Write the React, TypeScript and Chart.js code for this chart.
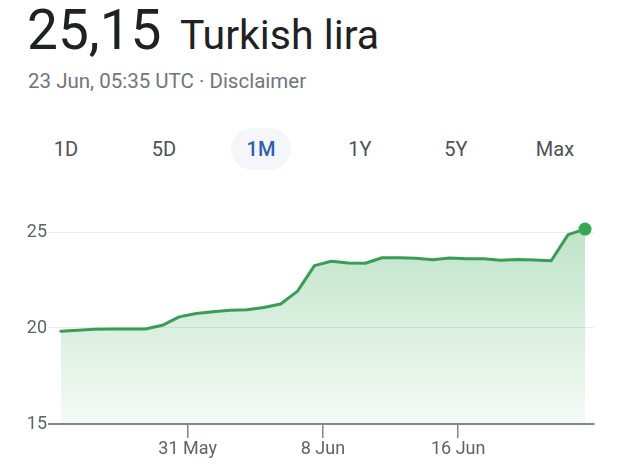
import React, { useEffect, useRef } from "react";
import { Chart, registerables } from "chart.js";

Chart.register(...registerables);

// ---- data ----
const dates = [
  "2023-05-23", "2023-05-24", "2023-05-25", "2023-05-26", "2023-05-27", "2023-05-28",
  "2023-05-29", "2023-05-30", "2023-05-31", "2023-06-01", "2023-06-02", "2023-06-03",
  "2023-06-04", "2023-06-05", "2023-06-06", "2023-06-07", "2023-06-08", "2023-06-09",
  "2023-06-10", "2023-06-11", "2023-06-12", "2023-06-13", "2023-06-14", "2023-06-15",
  "2023-06-16", "2023-06-17", "2023-06-18", "2023-06-19", "2023-06-20", "2023-06-21",
  "2023-06-22", "2023-06-23",
];
const rates = [
  19.83, 19.88, 19.93, 19.95, 19.95, 19.95,
  20.14, 20.58, 20.76, 20.85, 20.93, 20.95,
  21.07, 21.25, 21.92, 23.25, 23.48, 23.38,
  23.37, 23.66, 23.66, 23.63, 23.55, 23.64,
  23.61, 23.61, 23.53, 23.57, 23.54, 23.50,
  24.86, 25.15,
];
const tickDates = ["2023-05-31", "2023-06-08", "2023-06-16"];
const tickLabels = ["31 May", "8 Jun", "16 Jun"];
const yTicks = [15, 20, 25];
const ranges = ["1D", "5D", "1M", "1Y", "5Y", "Max"];
const activeRange = "1M";
const price = "25,15";
const currency = "Turkish lira";
const subtitle = "23 Jun, 05:35 UTC · Disclaimer";

const ORIGIN = Date.UTC(2023, 4, 1);
const toDay = (s: string) => (Date.parse(s + "T00:00:00Z") - ORIGIN) / 86400000;
const tickDays = tickDates.map(toDay);

const rangeCenters = [66, 164, 261, 360, 456, 555];

export default function App() {
  const ref = useRef<HTMLCanvasElement | null>(null);

  useEffect(() => {
    if (!ref.current) return;
    const chart = new Chart(ref.current, {
      type: "line",
      data: {
        datasets: [
          {
            data: dates.map((d, i) => ({ x: toDay(d) + 0.5, y: rates[i] })),
            borderColor: "#3a9d55",
            borderWidth: 3,
            borderJoinStyle: "round",
            borderCapStyle: "round",
            tension: 0,
            fill: "start",
            backgroundColor: (ctx: any) => {
              const c = ctx.chart;
              const area = c.chartArea;
              if (!area) return "rgba(52,168,83,0.2)";
              const g = c.ctx.createLinearGradient(0, area.top, 0, area.bottom);
              g.addColorStop(0, "rgba(52,168,83,0.34)");
              g.addColorStop(1, "rgba(52,168,83,0.05)");
              return g;
            },
            pointRadius: (ctx: any) => (ctx.dataIndex === rates.length - 1 ? 6.5 : 0),
            pointBackgroundColor: "#34a853",
            pointBorderWidth: 0,
            pointHoverRadius: 0,
            clip: false,
          } as any,
        ],
      },
      options: {
        animation: false,
        responsive: false,
        maintainAspectRatio: false,
        events: [],
        layout: { padding: { top: 10.6, right: 26, bottom: 6, left: 0 } },
        plugins: { legend: { display: false }, tooltip: { enabled: false } },
        scales: {
          x: {
            type: "linear",
            min: 21.8,
            max: 54.03,
            afterBuildTicks: (s: any) => {
              s.ticks = tickDays.map((v) => ({ value: v }));
            },
            afterFit: (s: any) => {
              s.height = 45;
            },
            grid: {
              display: true,
              drawOnChartArea: false,
              drawTicks: true,
              tickLength: 14,
              color: "#80868b",
              lineWidth: 1.5,
            },
            border: { display: true, color: "#80868b", width: 2 },
            ticks: {
              padding: 1,
              color: "#5f6368",
              font: { family: "Roboto", size: 18 },
              maxRotation: 0,
              autoSkip: false,
              callback: (v: any) => {
                const i = tickDays.indexOf(Number(v));
                return i >= 0 ? tickLabels[i] : "";
              },
            },
          },
          y: {
            min: 15,
            max: 26,
            afterBuildTicks: (s: any) => {
              s.ticks = yTicks.map((v) => ({ value: v }));
            },
            afterFit: (s: any) => {
              s.width = 49;
            },
            grid: { color: "#ebebeb", lineWidth: 1, drawTicks: false },
            border: { display: false },
            ticks: {
              padding: 2,
              color: "#5f6368",
              font: { family: "Roboto", size: 18 },
              callback: (v: any) => String(v),
            },
          },
        },
      } as any,
    });
    return () => chart.destroy();
  }, []);

  const font = "Roboto, 'Noto Sans', sans-serif";
  return (
    <div
      style={{
        position: "fixed",
        left: 0,
        top: 0,
        width: 620,
        height: 475,
        background: "#fff",
        overflow: "hidden",
        fontFamily: font,
      }}
    >
      <span
        style={{ position: "absolute", left: 27, top: 2.7, fontSize: 55, lineHeight: 1, color: "#202124", whiteSpace: "nowrap" }}
      >
        {price}
      </span>
      <span
        style={{ position: "absolute", left: 180, top: 14.5, fontSize: 41, lineHeight: 1, color: "#202124", whiteSpace: "nowrap" }}
      >
        {currency}
      </span>
      <span
        style={{ position: "absolute", left: 28, top: 70.7, fontSize: 20.5, lineHeight: 1, color: "#70757a", whiteSpace: "nowrap" }}
      >
        {subtitle}
      </span>
      {ranges.map((r, i) => {
        const active = r === activeRange;
        return (
          <React.Fragment key={r}>
            {active && (
              <div
                style={{
                  position: "absolute",
                  left: rangeCenters[i] - 30,
                  top: 128,
                  width: 60,
                  height: 42,
                  borderRadius: 21,
                  background: "#f4f6f9",
                }}
              />
            )}
            <span
              style={{
                position: "absolute",
                left: rangeCenters[i],
                top: 149,
                transform: "translate(-50%, -50%)",
                fontSize: 20,
                lineHeight: 1,
                fontWeight: active ? 500 : 400,
                color: active ? "#2f5fb3" : "#4d5156",
                whiteSpace: "nowrap",
              }}
            >
              {r}
            </span>
          </React.Fragment>
        );
      })}
      <canvas
        ref={ref}
        width={620}
        height={275}
        style={{ position: "absolute", left: 0, top: 200, width: 620, height: 275 }}
      />
    </div>
  );
}
